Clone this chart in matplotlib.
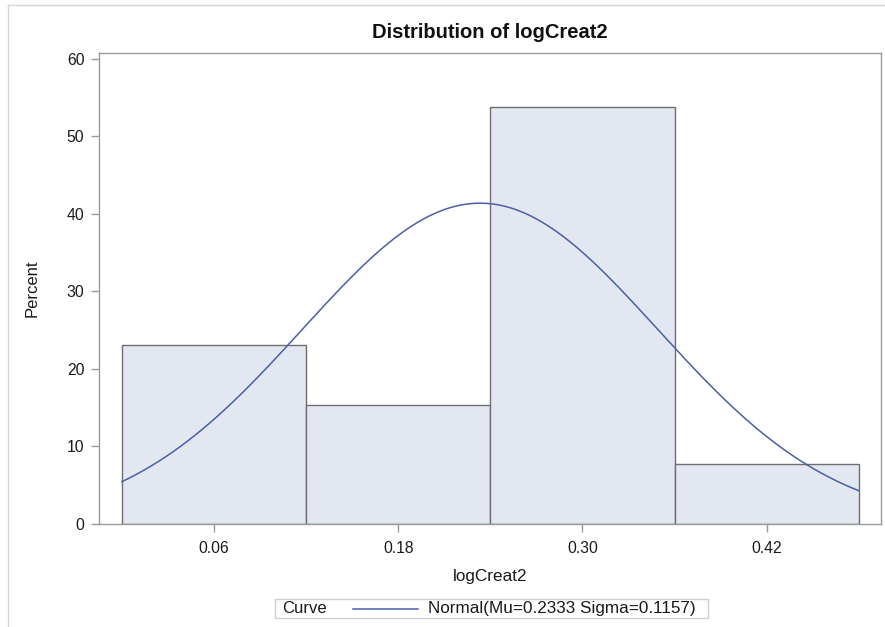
import matplotlib
matplotlib.use("Agg")
import matplotlib.pyplot as plt
from matplotlib.lines import Line2D
from matplotlib.patches import Rectangle
import numpy as np

plt.rcParams["font.family"] = ["Liberation Sans", "DejaVu Sans"]

# histogram bins (midpoints) and percent per bin
bin_mids = [0.06, 0.18, 0.30, 0.42]
percents = [23.08, 15.38, 53.85, 7.69]
bin_width = 0.12
tick_labels = ["0.06", "0.18", "0.30", "0.42"]

# fitted normal curve parameters (from the legend)
mu = 0.2333
sigma = 0.1157
curve_label = "Normal(Mu=0.2333 Sigma=0.1157)"

W, H = 885, 627
fig = plt.figure(figsize=(W / 100, H / 100), dpi=100)
ax = fig.add_axes([99 / W, 1 - 523.7 / H, 782 / W, 471 / H])

ax.bar(bin_mids, percents, width=bin_width, color="#E3E7F1",
       edgecolor="#6E6E6E", linewidth=1.0, zorder=2)

x = np.linspace(bin_mids[0] - bin_width / 2, bin_mids[-1] + bin_width / 2, 300)
y = 100 * bin_width * np.exp(-0.5 * ((x - mu) / sigma) ** 2) / (sigma * np.sqrt(2 * np.pi))
ax.plot(x, y, color="#4A5FA5", linewidth=1.1, zorder=3)

ax.set_xlim(-0.0149, 0.4945)
ax.set_ylim(0, 60.8)
ax.set_xticks(bin_mids)
ax.set_xticklabels(tick_labels)
ax.set_yticks([0, 10, 20, 30, 40, 50, 60])

for s in ax.spines.values():
    s.set_color("#9A9A9A")
    s.set_linewidth(1.0)
ax.tick_params(axis="both", colors="#9A9A9A", labelcolor="#1A1A1A",
               labelsize=11.3, length=5.5, width=1.0, pad=5)
ax.tick_params(axis="x", pad=7)

# titles and axis labels placed in figure pixels
fig.text(490 / W, 1 - 32.5 / H, "Distribution of logCreat2", fontsize=14.5,
         fontweight="bold", color="#111111", ha="center", va="center")
fig.text(490 / W, 1 - 576 / H, "logCreat2", fontsize=12.3, color="#1A1A1A",
         ha="center", va="center")
fig.text(32 / W, 1 - 288 / H, "Percent", fontsize=12, color="#1A1A1A",
         ha="center", va="center", rotation=90)

# legend row at the bottom
fig.add_artist(Rectangle((275 / W, 1 - 617.5 / H), 433 / W, 19 / H,
                         transform=fig.transFigure, facecolor="white",
                         edgecolor="#CFCFCF", linewidth=1.0))
ly = 1 - 608.5 / H
fig.text(282 / W, ly, "Curve", fontsize=12, color="#1A1A1A", va="center")
fig.add_artist(Line2D([353 / W, 418 / W], [ly, ly], color="#4A5FA5",
                      linewidth=1.1))
fig.text(428 / W, ly, curve_label, fontsize=12.3, color="#1A1A1A", va="center")

# outer frame lines (top and left)
fig.add_artist(Line2D([8 / W, 1], [1 - 5 / H, 1 - 5 / H],
                      color="#D6D6D6", linewidth=1.0))
fig.add_artist(Line2D([8 / W, 8 / W], [0, 1 - 5 / H],
                      color="#D6D6D6", linewidth=1.0))

fig.savefig("out.png", dpi=100)
